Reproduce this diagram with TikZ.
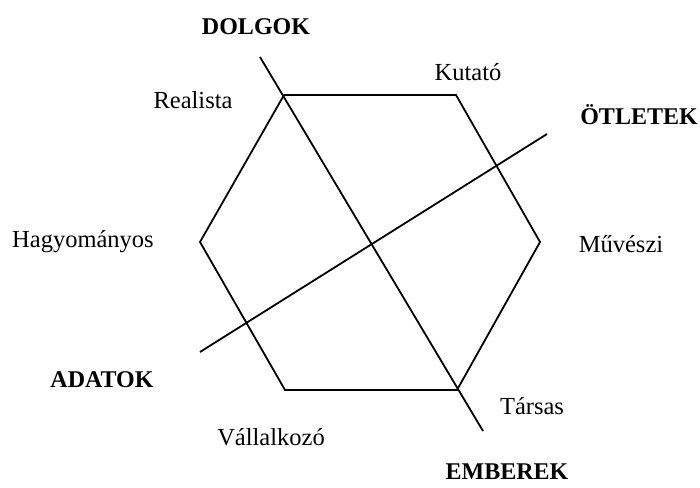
\documentclass[tikz,border=0pt]{standalone}
\usepackage{fontspec}
\setmainfont{Liberation Serif}
\begin{document}
\begin{tikzpicture}[x=1pt,y=-1pt,
  lbl/.style={inner sep=0pt,font=\fontsize{24.5}{29}\selectfont},
  bold/.style={inner sep=0pt,font=\fontsize{24}{29}\selectfont\bfseries},
  ln/.style={line width=1.8pt,line join=miter}]
\useasboundingbox (0,0) rectangle (700,487);
\coordinate (v1) at (284,95);
\coordinate (v2) at (456,95);
\coordinate (v3) at (540,242);
\coordinate (v4) at (457,390);
\coordinate (v5) at (285,390);
\coordinate (v6) at (200,242);
\draw[ln] (v1) -- (v2) -- (v3) -- (v4) -- (v5) -- (v6) -- cycle;
\coordinate (a1) at (260,57);
\coordinate (a2) at (483,431);
\draw[ln] (a1) -- (a2);
\coordinate (b1) at (200,352);
\coordinate (b2) at (547,134);
\draw[ln] (b1) -- (b2);
\node[bold] (dolgok) at (256,27) {DOLGOK};
\node[bold] (otletek) at (639,115) {ÖTLETEK};
\node[bold] (adatok) at (102,380) {ADATOK};
\node[bold] (emberek) at (507,472) {EMBEREK};
\node[lbl] (kutato) at (468,72) {Kutató};
\node[lbl] (realista) at (193,100) {Realista};
\node[lbl] (hagy) at (83,242) {Hagyományos};
\node[lbl] (muv) at (621,244) {Művészi};
\node[lbl] (tarsas) at (532,406) {Társas};
\node[lbl] (vall) at (271,437) {Vállalkozó};
\end{tikzpicture}
\end{document}
